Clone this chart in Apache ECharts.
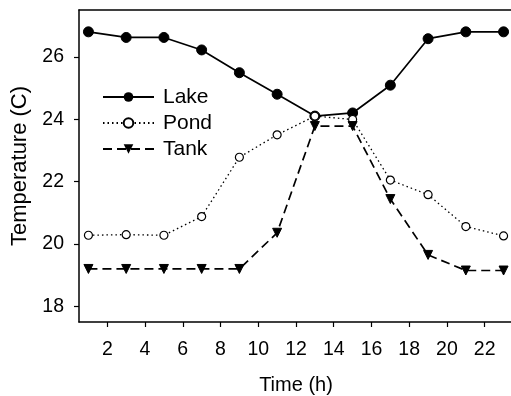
<!DOCTYPE html>
<html><head><meta charset="utf-8">
<script src="https://cdn.jsdelivr.net/npm/echarts@6/dist/echarts.min.js"></script>
<style>html,body{margin:0;padding:0;background:#fff}#c{width:511px;height:396px}</style>
</head><body><div id="c"></div>
<script>
var hours = [1,3,5,7,9,11,13,15,17,19,21,23];
var lake = [26.8,26.62,26.62,26.22,25.49,24.8,24.1,24.2,25.09,26.58,26.8,26.8];
var pond = [20.28,20.3,20.28,20.88,22.78,23.5,24.1,23.99,22.05,21.58,20.56,20.26];
var tank = [19.2,19.2,19.2,19.2,19.2,20.36,23.78,23.78,21.44,19.65,19.15,19.15];
var xTicks = [2,4,6,8,10,12,14,16,18,20,22];
var yTicks = [18,20,22,24,26];

function pairs(v){ return hours.map(function(h,i){ return [h, v[i]]; }); }
var font = 'Liberation Sans, Arial, sans-serif';
var chart = echarts.init(document.getElementById('c'), null, {renderer:'canvas'});
chart.setOption({
  animation:false,
  backgroundColor:'#fff',
  grid:{left:79, top:10, width:434, height:312, show:false, containLabel:false, outerBoundsMode:'none'},
  legend:{
    orient:'vertical', left:97, top:81.5, itemWidth:51, itemHeight:12, itemGap:5,
    textStyle:{fontFamily:font, fontSize:21, lineHeight:21, color:'#000', padding:[0,0,0,4]},
    data:['Lake','Pond','Tank']
  },
  xAxis:[{
    type:'value', min:0.5, max:23.5,
    name:'Time (h)', nameLocation:'middle', nameGap:53,
    nameTextStyle:{fontFamily:font, fontSize:20, color:'#000'},
    axisLine:{show:true, lineStyle:{color:'#000', width:1.5}},
    axisTick:{show:true, customValues:xTicks, length:5, inside:false, lineStyle:{color:'#000', width:1.2}},
    axisLabel:{customValues:xTicks, fontFamily:font, fontSize:19.5, color:'#000', margin:18},
    splitLine:{show:false}
  },{
    type:'value', min:0.5, max:23.5, position:'top',
    axisLine:{show:true, onZero:false, lineStyle:{color:'#000', width:1.5}},
    axisTick:{show:false}, axisLabel:{show:false}, splitLine:{show:false}
  }],
  yAxis:{
    type:'value', min:17.5, max:27.5,
    name:'Temperature (C)', nameLocation:'middle', nameGap:46,
    nameTextStyle:{fontFamily:font, fontSize:22, color:'#000'},
    axisLine:{show:true, lineStyle:{color:'#000', width:1.5}},
    axisTick:{show:true, customValues:yTicks, length:5, inside:false, lineStyle:{color:'#000', width:1.2}},
    axisLabel:{customValues:yTicks, fontFamily:font, fontSize:19.5, color:'#000', margin:15},
    splitLine:{show:false}
  },
  series:[
    {name:'Lake', type:'line', data:pairs(lake), symbol:'circle', symbolSize:10,
     lineStyle:{color:'#000', width:1.7, type:'solid'}, itemStyle:{color:'#000', borderColor:'#000'}},
    {name:'Pond', type:'line', data:pairs(pond), symbol:'circle', symbolSize:8,
     lineStyle:{color:'#000', width:1.3, type:[1.5,3]}, itemStyle:{color:'#fff', borderColor:'#000', borderWidth:1.2}},
    {name:'Tank', type:'line', data:pairs(tank), symbol:'triangle', symbolRotate:180, symbolSize:9,
     lineStyle:{color:'#000', width:1.7, type:[9,5]}, itemStyle:{color:'#000', borderColor:'#000'}}
  ]
});
</script></body></html>
